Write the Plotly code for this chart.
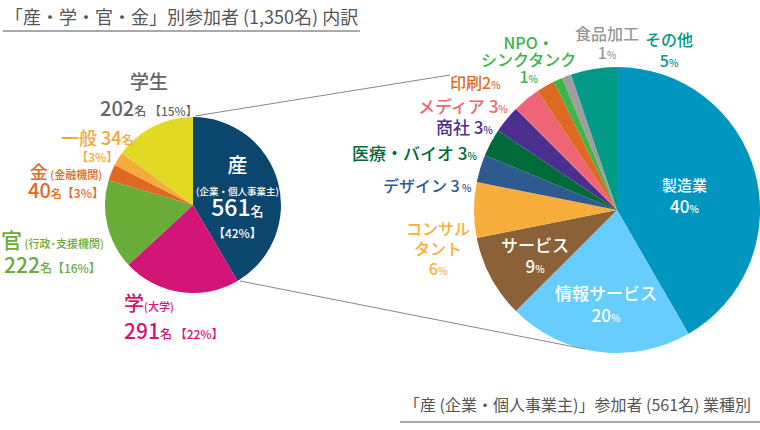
import plotly.graph_objects as go

W, H = 760, 430
FONT = "Noto Sans CJK JP"

# ---- Left pie: 産・学・官・金 ----
left_labels = ["産", "学", "官", "金", "一般", "学生"]
left_values = [561, 291, 222, 40, 34, 202]
left_colors = ["#0b466f", "#d31477", "#6aac38", "#de6a21", "#f6ac3b", "#e1d923"]

# ---- Right pie: 産 業種別 (%) ----
right_labels = ["製造業", "情報サービス", "サービス", "コンサルタント", "デザイン",
                "医療・バイオ", "商社", "メディア", "印刷", "NPO・シンクタンク",
                "食品加工", "その他"]
right_values = [40, 20, 9, 6, 3, 3, 3, 3, 2, 1, 1, 5]
right_colors = ["#0096bf", "#66cdfd", "#8b6237", "#f8ae3c", "#2e5a8f", "#006b38",
                "#4a2f8f", "#ed6576", "#de6a21", "#3cb54a", "#9e9e9e", "#009a87"]

title_left = "「産・学・官・金」別参加者 (1,350名) 内訳"
title_right = "「産 (企業・個人事業主)」参加者 (561名) 業種別"


def px(x, y):
    return x / W, 1 - y / H


fig = go.Figure()

lx0, ly0 = px(105, 117)
lx1, ly1 = px(281, 293)
fig.add_trace(go.Pie(
    labels=left_labels, values=left_values, sort=False, direction="clockwise",
    rotation=0, marker=dict(colors=left_colors, line=dict(width=0)),
    textinfo="none", hoverinfo="label+value+percent", showlegend=False,
    domain=dict(x=[lx0, lx1], y=[ly1, ly0]),
))

rx0, ry0 = px(474, 67)
rx1, ry1 = px(760, 353)
fig.add_trace(go.Pie(
    labels=right_labels, values=right_values, sort=False, direction="clockwise",
    rotation=0, marker=dict(colors=right_colors, line=dict(width=0)),
    textinfo="none", hoverinfo="label+percent", showlegend=False,
    domain=dict(x=[rx0, min(rx1, 1)], y=[ry1, ry0]),
))

annotations = []


def s(t, size):
    return f"<span style='font-size:{size}px'>{t}</span>"


def ann(x, y, lines, color, line_h=None, size=16, weight=500,
        xanchor="center", align="center"):
    """lines: list of lists of (text, size) runs."""
    ax, ay = px(x, y)
    base = (line_h / 1.3) if line_h else size
    text = "<br>".join("".join(s(t, sz) for t, sz in ln) for ln in lines)
    annotations.append(dict(
        x=ax, y=ay, xref="paper", yref="paper", text=text, showarrow=False,
        xanchor=xanchor, yanchor="middle", align=align,
        font=dict(family=FONT, size=base, color=color, weight=weight),
    ))


# titles
ann(3, 16, [[(title_left, 18)]], "#555555", size=18, weight=400, xanchor="left")
ann(402, 404, [[(title_right, 16)]], "#555555", size=16, weight=400, xanchor="left")

# left pie labels
ann(149, 95, [[("学生", 19)], [("202", 20), ("名 ", 12), ("【15%】", 12)]],
    "#666666", line_h=27)
ann(97, 144, [[("一般 34", 18), ("名", 12)], [("【3%】", 12)]],
    "#f6a53a", line_h=17)
ann(66, 181, [[("金", 18), (" (金融機関)", 11)], [("40", 20), ("名", 11), ("【3%】", 12)]],
    "#de6a21", line_h=19)
ann(53, 251, [[("官", 21), (" (行政･支援機関)", 11)], [("222", 21), ("名", 12), ("【16%】", 12)]],
    "#6aac38", line_h=25)
ann(122, 316, [[("学", 20), ("(大学)", 11)], [("291", 21), ("名 ", 12), ("【22%】", 12)]],
    "#d31477", line_h=28, xanchor="left", align="left")
ann(238, 196, [[("産", 20)], [("(企業・個人事業主)", 9.5)],
               [("561", 23), ("名", 13)], [("【42%】", 12)]],
    "#ffffff", line_h=21.5)

# right pie labels
ann(684, 196, [[("製造業", 15)], [("40", 17), ("%", 10)]], "#ffffff", line_h=22)
ann(606, 303, [[("情報サービス", 17)], [("20", 17), ("%", 10)]], "#ffffff", line_h=22)
ann(535, 255, [[("サービス", 17)], [("9", 17), ("%", 10)]], "#ffffff", line_h=21)
ann(438, 248, [[("コンサル", 16)], [("タント", 16)], [("6", 16), ("%", 10)]],
    "#f8ae3c", line_h=20)
ann(427, 185, [[("デザイン 3", 16), (" %", 10)]], "#2e5a8f", size=16)
ann(415, 152, [[("医療・バイオ 3", 17), ("%", 10)]], "#006b38", size=17)
ann(465, 127, [[("商社 3", 17), ("%", 10)]], "#4a2f8f", size=17)
ann(463, 105, [[("メディア 3", 17), ("%", 10)]], "#ed6576", size=17)
ann(476, 82, [[("印刷2", 16), ("%", 10)]], "#de6a21", size=16)
ann(528, 59, [[("NPO・", 16)], [("シンクタンク", 16)], [("1", 16), ("%", 10)]],
    "#3cb54a", line_h=17)
ann(607, 42, [[("食品加工", 16)], [("1", 16), ("%", 10)]], "#999999", line_h=19)
ann(669, 50, [[("その他", 16)], [("5", 16), ("%", 10)]], "#009a87", line_h=21)

shapes = []


def line(x0, y0, x1, y1, color, width=1):
    a0, b0 = px(x0, y0)
    a1, b1 = px(x1, y1)
    shapes.append(dict(type="line", xref="paper", yref="paper", x0=a0, y0=b0,
                       x1=a1, y1=b1, line=dict(color=color, width=width)))


line(3, 31, 360, 31, "#555555", 1)
line(400, 422, 760, 422, "#555555", 1)
line(195, 116, 450, 75, "#888888", 1)
line(240, 281, 585, 349, "#888888", 1)

fig.update_layout(
    width=W, height=H, margin=dict(l=0, r=0, t=0, b=0),
    paper_bgcolor="#ffffff", plot_bgcolor="#ffffff",
    annotations=annotations, shapes=shapes,
    font=dict(family=FONT),
)

fig.write_html("out.html", config={"displayModeBar": False},
               post_script="document.body.style.margin='0';document.body.style.padding='0';")
